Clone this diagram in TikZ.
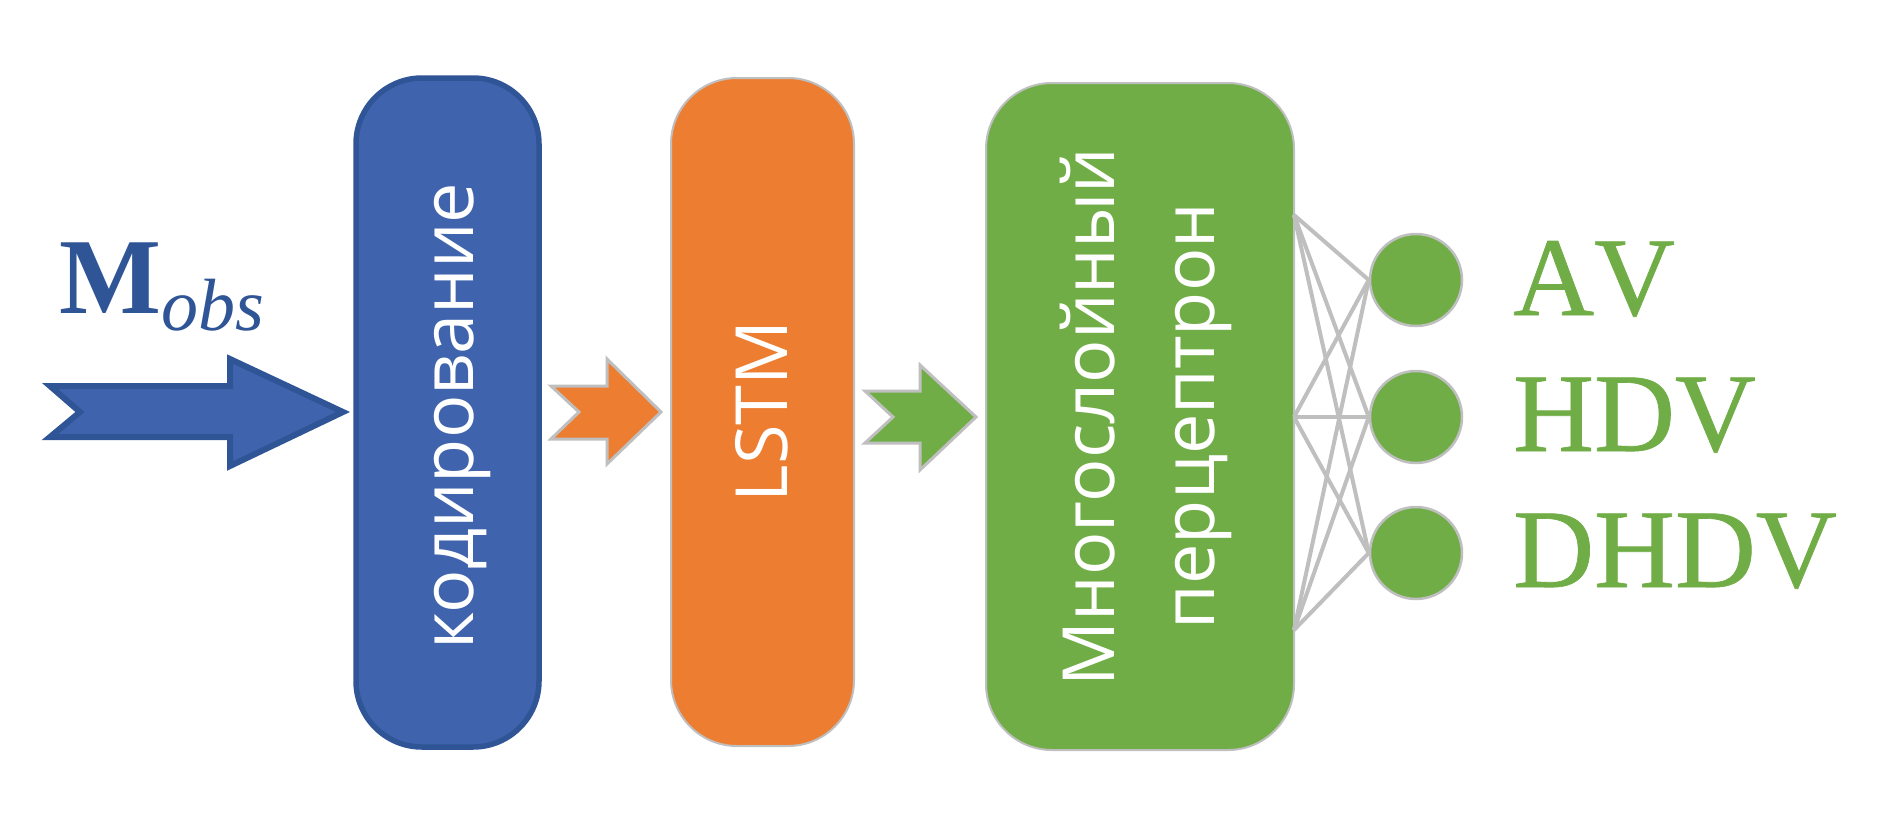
\documentclass[tikz,border=0pt]{standalone}
\usepackage{fontspec}
\setmainfont{Liberation Serif}
\newfontfamily\boxfont{Open Sans}
\newfontfamily\timesnk[Kerning=Off,FakeBold=0.6]{Liberation Serif}
\definecolor{boxblue}{HTML}{3F64AD}
\definecolor{edgeblue}{HTML}{2F5597}
\definecolor{boxorange}{HTML}{ED7D31}
\definecolor{boxgreen}{HTML}{70AD47}
\definecolor{edgegrey}{HTML}{BFBFBF}
\begin{document}
\begin{tikzpicture}[x=1pt,y=-1pt,
  box/.style={rounded corners=66pt, inner sep=0pt},
  boxtext/.style={rotate=90, anchor=base, inner sep=0pt, text=white,
    font=\boxfont\fontsize{72}{72}\selectfont},
  blockarrow/.style={line width=3pt, draw=edgegrey, line join=miter},
  unit/.style={circle, fill=boxgreen, draw=edgegrey, line width=2.5pt, minimum size=92pt, inner sep=0pt},
  link/.style={draw=edgegrey, line width=4pt},
  lbl/.style={anchor=base west, inner sep=0pt, text=boxgreen, font=\timesnk\fontsize{112}{112}\selectfont}]
\useasboundingbox (0,0) rectangle (1890,827);
% boxes
\node[box, fill=boxblue, draw=edgeblue, line width=5.5pt, minimum width=183pt, minimum height=669pt] (enc) at (447.5,412.5) {};
\node[box, fill=boxorange, draw=edgegrey, line width=2pt, minimum width=183pt, minimum height=668pt] (lstm) at (762.5,412) {};
\node[box, fill=boxgreen, draw=edgegrey, line width=2pt, minimum width=308pt, minimum height=667pt] (mlp) at (1140,416.5) {};
% box texts
\node[boxtext] (encT) at (473,416) {кодирование};
\node[boxtext] (lstmT) at (787,411.5) {LSTM};
\node[boxtext] (mlpT1) at (1114,417) {Многослойный};
\node[boxtext] (mlpT2) at (1214,416) {перцептрон};
% input label
\node[anchor=base west, inner sep=0pt, text=edgeblue] (mobs) at (59,313)
  {\fontsize{108}{108}\selectfont\bfseries M\raisebox{-17pt}{\fontsize{74}{74}\selectfont\mdseries\itshape obs}};
% block arrows
\draw[fill=boxblue, draw=edgeblue, line width=6pt, line join=miter]
  (50,386) -- (230,386) -- (230,359) -- (343,412) -- (230,466) -- (230,437) -- (50,437) -- (80,412) -- cycle;
\draw[blockarrow, fill=boxorange]
  (551,386) -- (607,386) -- (607,359) -- (661,412) -- (607,464) -- (607,439) -- (551,439) -- (579,412) -- cycle;
\draw[blockarrow, fill=boxgreen]
  (865,391) -- (920,391) -- (920,365) -- (976,417) -- (920,470) -- (920,443) -- (865,443) -- (893,417) -- cycle;
% output units
\node[unit] (o1) at (1416,280) {};
\node[unit] (o2) at (1416,417) {};
\node[unit] (o3) at (1416,553) {};
\coordinate (l1) at (1294,215);
\coordinate (l2) at (1294,417);
\coordinate (l3) at (1294,630);
\foreach \a in {l1,l2,l3}{
  \foreach \b in {o1,o2,o3}{
    \draw[link] (\a) -- (\b.west);
  }
}
% labels
\node[lbl] (t1) at (1513,315) {AV};
\node[lbl] (t2) at (1513,451) {HDV};
\node[lbl] (t3) at (1513,587) {DHDV};
\end{tikzpicture}
\end{document}
